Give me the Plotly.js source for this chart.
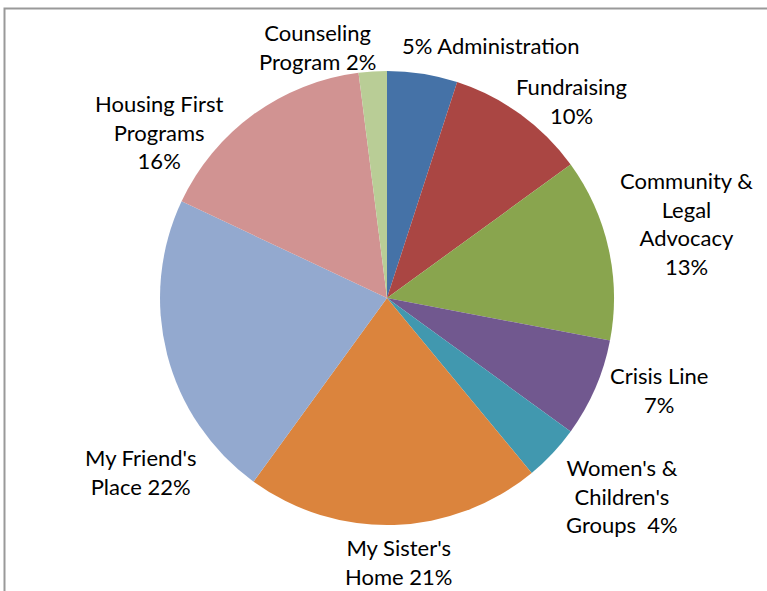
<!DOCTYPE html>
<html><head><meta charset="utf-8">
<script src="https://cdn.plot.ly/plotly-3.0.1.min.js"></script>
<style>html,body{margin:0;padding:0;background:#fff}#chart{width:767px;height:591px}</style>
</head><body><div id="chart"></div>
<script>
const categories = ["Administration","Fundraising","Community & Legal Advocacy","Crisis Line","Women's & Children's Groups","My Sister's Home","My Friend's Place","Housing First Programs","Counseling Program"];
const values = [5,10,13,7,4,21,22,16,2];
const labelText = ["5% Administration","Fundraising<br>10%","Community &<br>Legal<br>Advocacy<br>13%","Crisis Line<br>7%","Women's &<br>Children's<br>Groups  4%","My Sister's<br>Home 21%","My Friend's<br>Place 22%","Housing First<br>Programs<br>16%","Counseling<br>Program 2%"];
const colors = ["#4572A7","#AA4643","#89A54E","#71588F","#4198AF","#DB843D","#93A9CF","#D19392","#B9CD96"];

const W = 767, H = 591;
const cx = 387, cy = 298, r = 227;
// label placement (pixel centres), layout only
const labelPos = [[491,45],[571,101],[686,224],[659,390],[622,496],[398,562],[140,472],[159,132],[317,47]];

const trace = {
  type: 'pie',
  labels: categories,
  values: values,
  textinfo: 'none',
  sort: false,
  direction: 'clockwise',
  rotation: 0,
  marker: {colors: colors, line: {width: 0}},
  domain: {x: [(cx - r) / W, (cx + r) / W], y: [1 - (cy + r) / H, 1 - (cy - r) / H]},
  automargin: false,
  showlegend: false
};
const font = {family: 'Lato, Liberation Sans, sans-serif', size: 22, color: '#000'};
const annotations = labelText.map((t, i) => ({
  text: t, xref: 'paper', yref: 'paper',
  x: labelPos[i][0] / W, y: 1 - labelPos[i][1] / H,
  xanchor: 'center', yanchor: 'middle', align: 'center',
  showarrow: false, font: font
}));
const layout = {
  width: W, height: H,
  margin: {l: 0, r: 0, t: 0, b: 0},
  paper_bgcolor: '#fff',
  showlegend: false,
  annotations: annotations,
  shapes: [{type: 'rect', xref: 'paper', yref: 'paper', x0: 4.5 / W, x1: 1.05, y0: -0.05, y1: 1 - 8.5 / H, line: {color: '#999', width: 2}}]
};
Plotly.newPlot('chart', [trace], layout, {displayModeBar: false, staticPlot: true});
</script></body></html>
